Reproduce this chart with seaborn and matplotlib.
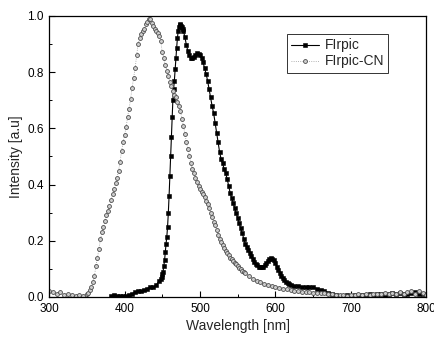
import numpy as np
import pandas as pd
import seaborn as sns
import matplotlib
matplotlib.use("Agg")
import matplotlib.pyplot as plt
from matplotlib.ticker import MultipleLocator

# FIrpic-CN spectrum (gray)
cn_wl_a = np.arange(300, 351, 5)
cn_int_a = [0.02, 0.018, 0.012, 0.016, 0.008, 0.012, 0.006, 0.004, 0.006, 0.005, 0.012]
cn_wl_b = np.arange(352, 501, 2)
cn_int_b = [0.015, 0.025, 0.035, 0.055, 0.075, 0.11, 0.14, 0.17, 0.205, 0.23,
            0.25, 0.27, 0.29, 0.305, 0.325, 0.345, 0.365, 0.385, 0.405, 0.425,
            0.45, 0.48, 0.52, 0.55, 0.575, 0.605, 0.64, 0.67, 0.705, 0.745,
            0.78, 0.815, 0.86, 0.9, 0.92, 0.935, 0.945, 0.955, 0.97, 0.98,
            0.99, 0.99, 0.975, 0.965, 0.955, 0.945, 0.938, 0.93, 0.91, 0.87,
            0.85, 0.825, 0.805, 0.785, 0.766, 0.75, 0.733, 0.72, 0.71, 0.695,
            0.68, 0.66, 0.635, 0.61, 0.58, 0.55, 0.525, 0.5, 0.475, 0.455,
            0.44, 0.425, 0.41, 0.395, 0.385]
cn_wl_c = np.arange(502, 561, 2)
cn_int_c = [0.375, 0.365, 0.355, 0.342, 0.33, 0.315, 0.30, 0.283, 0.268, 0.255,
            0.24, 0.222, 0.208, 0.196, 0.185, 0.175, 0.165, 0.156, 0.148, 0.14,
            0.134, 0.128, 0.122, 0.116, 0.11, 0.104, 0.098, 0.093, 0.089, 0.085]
cn_wl_d = np.arange(565, 801, 5)
cn_int_d = [0.075, 0.065, 0.058, 0.052, 0.047, 0.043, 0.04, 0.036,
            0.033, 0.03, 0.027, 0.025, 0.022, 0.02, 0.018, 0.017, 0.016, 0.015,
            0.014, 0.013, 0.015, 0.012, 0.01, 0.008, 0.006, 0.008, 0.005, 0.007,
            0.006, 0.009, 0.007, 0.011, 0.008, 0.01, 0.012, 0.009, 0.013, 0.01,
            0.015, 0.012, 0.018, 0.01, 0.016, 0.02, 0.012, 0.022, 0.014, 0.008]

# FIrpic spectrum (black)
fi_wl_a = np.arange(382, 447, 4)
fi_int_a = [0.004, 0.008, 0.005, 0.002, 0.002, 0.004, 0.007, 0.012, 0.016,
            0.02, 0.022, 0.025, 0.03, 0.035, 0.035, 0.042, 0.058]
fi_wl_b = np.arange(448, 479, 1)
fi_int_b = [0.065, 0.072, 0.08, 0.09, 0.11, 0.13, 0.16, 0.19, 0.215, 0.25,
            0.3, 0.36, 0.43, 0.5, 0.57, 0.64, 0.70, 0.74, 0.77, 0.81,
            0.85, 0.885, 0.92, 0.945, 0.96, 0.968, 0.97, 0.965, 0.96, 0.953,
            0.945]
fi_wl_c = np.arange(480, 531, 2)
fi_int_c = [0.925, 0.895, 0.875, 0.86, 0.852, 0.852, 0.855, 0.862, 0.867, 0.866,
            0.86, 0.85, 0.835, 0.815, 0.795, 0.77, 0.74, 0.71, 0.68, 0.655,
            0.62, 0.585, 0.55, 0.515, 0.49, 0.475]
fi_wl_d = np.arange(532, 621, 2)
fi_int_d = [0.455, 0.44, 0.42, 0.395, 0.37, 0.352, 0.335, 0.317, 0.298, 0.28,
            0.262, 0.244, 0.226, 0.208, 0.19, 0.178, 0.166, 0.155, 0.145, 0.135,
            0.126, 0.118, 0.112, 0.108, 0.106, 0.106, 0.108, 0.113, 0.12, 0.128,
            0.134, 0.137, 0.136, 0.13, 0.12, 0.108, 0.096, 0.085, 0.076, 0.068,
            0.061, 0.055, 0.05, 0.046, 0.043]
fi_wl_e = np.arange(625, 801, 5)
fi_int_e = [0.039, 0.038, 0.037, 0.037, 0.036, 0.034, 0.03, 0.026, 0.021, 0.015,
            0.01, 0.006,
            0.005, 0.004, 0.006, 0.005, 0.007, 0.004, 0.008, 0.006, 0.009, 0.007,
            0.01, 0.012, 0.008, 0.011, 0.013, 0.009, 0.014, 0.012, 0.01, 0.015,
            0.018, 0.012, 0.01, 0.006]

df_cn = pd.DataFrame({
    "wl": np.concatenate([cn_wl_a, cn_wl_b, cn_wl_c, cn_wl_d]),
    "val": np.concatenate([cn_int_a, cn_int_b, cn_int_c, cn_int_d]),
})
df_fi = pd.DataFrame({
    "wl": np.concatenate([fi_wl_a, fi_wl_b, fi_wl_c, fi_wl_d, fi_wl_e]),
    "val": np.concatenate([fi_int_a, fi_int_b, fi_int_c, fi_int_d, fi_int_e]),
})

sns.set_style("white")
plt.rcParams["font.family"] = ["Liberation Sans", "DejaVu Sans"]

fig = plt.figure(figsize=(4.35, 3.39), dpi=100)
ax = fig.add_axes([0.113, 0.124, 0.867, 0.829])

sns.lineplot(data=df_fi, x="wl", y="val", ax=ax, color="black", linewidth=0.8,
             marker="s", markersize=2.9, markeredgewidth=0.4,
             markerfacecolor="black", markeredgecolor="black", label="FIrpic")
sns.lineplot(data=df_cn, x="wl", y="val", ax=ax, color="0.6", linewidth=0.6,
             linestyle=":", marker="o", markersize=2.8, markeredgewidth=0.6,
             markerfacecolor="0.8", markeredgecolor="0.3", label="FIrpic-CN")

ax.set_xlim(300, 800)
ax.set_ylim(0, 1.0)
ax.xaxis.set_major_locator(MultipleLocator(100))
ax.xaxis.set_minor_locator(MultipleLocator(50))
ax.yaxis.set_major_locator(MultipleLocator(0.2))
ax.yaxis.set_minor_locator(MultipleLocator(0.1))
ax.tick_params(which="both", direction="in", top=False, right=False,
               bottom=True, left=True, colors="black", labelsize=8.5, pad=4)
ax.tick_params(which="major", length=4, width=0.8)
ax.tick_params(which="minor", length=2.5, width=0.7)
for sp in ax.spines.values():
    sp.set_color("black")
    sp.set_linewidth(0.9)

ax.set_xlabel("Wavelength [nm]", fontsize=10, labelpad=3)
ax.set_ylabel("Intensity [a.u]", fontsize=10, labelpad=3)

leg = ax.legend(loc="upper right", bbox_to_anchor=(0.899, 0.935), fontsize=10,
                frameon=True, fancybox=False, edgecolor="black",
                handlelength=2.0, handletextpad=0.4, borderpad=0.3,
                labelspacing=0.15, borderaxespad=0)
leg.get_frame().set_linewidth(0.7)

fig.savefig("out.png", dpi=100)
